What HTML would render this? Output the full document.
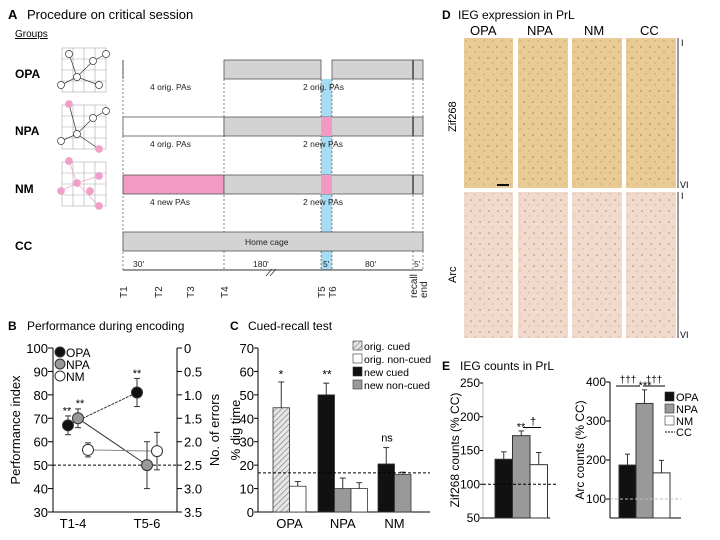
<!DOCTYPE html>
<html><head><meta charset="utf-8">
<style>
body{margin:0;background:#fff}
svg{display:block;font-family:"Liberation Sans",sans-serif}
</style></head><body>
<svg id="fig" width="720" height="540" viewBox="0 0 720 540" xmlns="http://www.w3.org/2000/svg">
<defs>
<pattern id="hatch" width="4" height="4" patternUnits="userSpaceOnUse" patternTransform="rotate(45)"><rect width="4" height="4" fill="#e6e6e6"/><line x1="0" y1="0" x2="0" y2="4" stroke="#777" stroke-width="1.2"/></pattern>
<pattern id="dotsZ" width="9" height="11" patternUnits="userSpaceOnUse"><rect width="9" height="11" fill="#e9cc95"/><circle cx="2" cy="3" r="0.8" fill="#b07a3a"/><circle cx="7" cy="8" r="0.6" fill="#c08a4a"/></pattern>
<pattern id="dotsA" width="9" height="11" patternUnits="userSpaceOnUse"><rect width="9" height="11" fill="#f1d9cc"/><circle cx="3" cy="2" r="0.8" fill="#b8806a"/><circle cx="7" cy="7" r="0.6" fill="#c99a86"/></pattern>
</defs>

<!-- Panel A -->
<g>
<text x="8" y="19" font-size="13" font-weight="bold">A</text>
<text x="27" y="19" font-size="13">Procedure on critical session</text>
<text x="15" y="37" font-size="10" text-decoration="underline">Groups</text>
<g font-size="12" font-weight="bold">
<text x="15" y="78">OPA</text>
<text x="15" y="135">NPA</text>
<text x="15" y="193">NM</text>
<text x="15" y="250">CC</text>
</g>
<g stroke="#aaa" stroke-width="0.6" fill="none">
<rect x="62" y="48" width="44" height="44"/><rect x="62" y="105" width="44" height="44"/><rect x="62" y="162" width="44" height="44"/>
<path d="M73 48v44M84 48v44M95 48v44M62 59h44M62 70h44M62 81h44"/>
<path d="M73 105v44M84 105v44M95 105v44M62 116h44M62 127h44M62 138h44"/>
<path d="M73 162v44M84 162v44M95 162v44M62 173h44M62 184h44M62 195h44"/>
</g>
<g stroke="#333" stroke-width="0.7" fill="#fff">
<path d="M69 54L77 77L93 61L106 54M61 85L77 77L99 85" fill="none"/>
<circle cx="69" cy="54" r="3.5"/><circle cx="93" cy="61" r="3.5"/><circle cx="106" cy="54" r="3.5"/><circle cx="77" cy="77" r="3.5"/><circle cx="61" cy="85" r="3.5"/><circle cx="99" cy="85" r="3.5"/>
<path d="M69 104L77 134L93 118L106 111M61 141L77 134L99 149" fill="none"/>
<circle cx="93" cy="118" r="3.5"/><circle cx="106" cy="111" r="3.5"/><circle cx="77" cy="134" r="3.5"/><circle cx="61" cy="141" r="3.5"/>
<circle cx="69" cy="104" r="3.5" fill="#f0a0c8" stroke="#f0a0c8"/><circle cx="99" cy="149" r="3.5" fill="#f0a0c8" stroke="#f0a0c8"/>
<path d="M69 161L77 183L99 176M61 191L77 183L99 206" fill="none" stroke="#f0a0c8"/>
<g fill="#f0a0c8" stroke="#f0a0c8"><circle cx="69" cy="161" r="3.5"/><circle cx="99" cy="176" r="3.5"/><circle cx="77" cy="183" r="3.5"/><circle cx="61" cy="191" r="3.5"/><circle cx="90" cy="191" r="3.5"/><circle cx="99" cy="206" r="3.5"/></g>
</g>
<rect x="321" y="79" width="11" height="191" fill="#a6dcf4"/>
<g stroke="#333" stroke-width="0.6" stroke-dasharray="2,2">
<line x1="123" y1="60" x2="123" y2="270"/><line x1="224" y1="79" x2="224" y2="270"/><line x1="321" y1="79" x2="321" y2="270"/><line x1="332" y1="79" x2="332" y2="270"/><line x1="413" y1="79" x2="413" y2="270"/><line x1="423" y1="79" x2="423" y2="270"/>
</g>
<line x1="123" y1="60" x2="123" y2="79" stroke="#333" stroke-width="0.8"/>
<g stroke="#555" stroke-width="0.8">
<rect x="224" y="60" width="97" height="19" fill="#d3d3d3"/>
<rect x="332" y="60" width="91" height="19" fill="#d3d3d3"/>
<rect x="123" y="117" width="101" height="19" fill="#fff"/>
<rect x="224" y="117" width="199" height="19" fill="#d3d3d3"/>
<rect x="321" y="117" width="11" height="19" fill="#f29ac2" stroke="none"/>
<rect x="123" y="175" width="101" height="19" fill="#f29ac2"/>
<rect x="224" y="175" width="199" height="19" fill="#d3d3d3"/>
<rect x="321" y="175" width="11" height="19" fill="#f29ac2" stroke="none"/>
<rect x="123" y="232" width="300" height="19" fill="#d3d3d3"/>
</g>
<g stroke="#444" stroke-width="1.5"><line x1="413" y1="60" x2="413" y2="79"/><line x1="413" y1="117" x2="413" y2="136"/><line x1="413" y1="175" x2="413" y2="194"/></g>
<g font-size="8.5" fill="#222">
<text x="150" y="90">4 orig. PAs</text><text x="303" y="90">2 orig. PAs</text>
<text x="150" y="147">4 orig. PAs</text><text x="303" y="147">2 new PAs</text>
<text x="150" y="205">4 new PAs</text><text x="303" y="205">2 new PAs</text>
<text x="245" y="245">Home cage</text>
<text x="133" y="267">30'</text><text x="253" y="267">180'</text><text x="323" y="267">5'</text><text x="365" y="267">80'</text><text x="414" y="267">5'</text>
</g>
<line x1="123" y1="270" x2="423" y2="270" stroke="#333"/>
<path d="M266 276l6-7M270 276l6-7" stroke="#333" stroke-width="0.8"/>
<g font-size="10" fill="#222">
<text transform="translate(127,298) rotate(-90)">T1</text><text transform="translate(162,298) rotate(-90)">T2</text><text transform="translate(194,298) rotate(-90)">T3</text><text transform="translate(228,298) rotate(-90)">T4</text><text transform="translate(325,298) rotate(-90)">T5</text><text transform="translate(336,298) rotate(-90)">T6</text><text transform="translate(417,298) rotate(-90)">recall</text><text transform="translate(427,298) rotate(-90)">end</text>
</g>
</g>

<!-- Panel D -->
<g>
<text x="442" y="19" font-size="12" font-weight="bold">D</text>
<text x="458" y="19" font-size="12">IEG expression in PrL</text>
<g font-size="13"><text x="470" y="35">OPA</text><text x="527" y="35">NPA</text><text x="584" y="35">NM</text><text x="640" y="35">CC</text></g>
<g>
<rect x="464" y="38" width="49" height="150" fill="url(#dotsZ)"/><rect x="518" y="38" width="50" height="150" fill="url(#dotsZ)"/><rect x="572" y="38" width="50" height="150" fill="url(#dotsZ)"/><rect x="626" y="38" width="50" height="150" fill="url(#dotsZ)"/>
</g>
<g>
<rect x="464" y="192" width="49" height="146" fill="url(#dotsA)"/><rect x="518" y="192" width="50" height="146" fill="url(#dotsA)"/><rect x="572" y="192" width="50" height="146" fill="url(#dotsA)"/><rect x="626" y="192" width="50" height="146" fill="url(#dotsA)"/>
</g>
<rect x="497" y="184" width="12" height="2" fill="#111"/>
<line x1="678" y1="38" x2="678" y2="188" stroke="#333"/><line x1="678" y1="192" x2="678" y2="338" stroke="#333"/>
<g font-size="9"><text x="681" y="46">I</text><text x="680" y="188">VI</text><text x="681" y="199">I</text><text x="680" y="338">VI</text></g>
<text transform="translate(456,132) rotate(-90)" font-size="11">Zif268</text>
<text transform="translate(456,283) rotate(-90)" font-size="11">Arc</text>
</g>

<!-- Panel B -->
<g id="panelB">
<text x="8" y="330" font-size="12" font-weight="bold">B</text>
<text x="27" y="330" font-size="12">Performance during encoding</text>
<text transform="translate(20,430) rotate(-90)" font-size="13" text-anchor="middle">Performance index</text>
<text transform="translate(219,430) rotate(-90)" font-size="13" text-anchor="middle">No. of errors</text>
</g>

<!-- Panel C -->
<g id="panelC">
<text x="230" y="330" font-size="12" font-weight="bold">C</text>
<text x="248" y="330" font-size="12">Cued-recall test</text>
<text transform="translate(240,430) rotate(-90)" font-size="13" text-anchor="middle">% dig time</text>
</g>

<!-- Panel E -->
<g id="panelE">
<text x="442" y="370" font-size="12" font-weight="bold">E</text>
<text x="460" y="370" font-size="12">IEG counts in PrL</text>
<text transform="translate(459,450) rotate(-90)" font-size="12" text-anchor="middle">Zif268 counts (% CC)</text>
<text transform="translate(584,450) rotate(-90)" font-size="12" text-anchor="middle">Arc counts (% CC)</text>
</g>
</svg>
<script>
// ---- Panel B data ----
const bGroups = ['OPA','NPA','NM'];
const bPhases = ['T1-4','T5-6'];
const bOPA = [67, 81];
const bNPA = [70, 50];
const bNM = [56.5, 56];
const bErrOPA = [4, 6];
const bErrNPA = [4, 10];
const bErrNM = [3, 8];
const bTicks = [30,40,50,60,70,80,90,100];
const bRightTicks = ['3.5','3.0','2.5','2.0','1.5','1.0','0.5','0'];
// ---- Panel C data ----
const cGroups = ['OPA','NPA','NM'];
const cSeries = ['orig. cued','orig. non-cued','new cued','new non-cued'];
const cOPA = [44.5, 11];
const cOPAErr = [11, 2];
const cNPA = [50, 10, 10];
const cNPAErr = [5, 4.5, 2.5];
const cNM = [20.5, 16];
const cNMErr = [7, 1];
const cTicks = [0,10,20,30,40,50,60,70];
// ---- Panel E data ----
const eGroups = ['OPA','NPA','NM'];
const zifVals = [137, 172, 129];
const zifErr = [11, 7, 18];
const zifTicks = [50,100,150,200,250];
const arcVals = [187, 345, 167];
const arcErr = [28, 35, 32];
const arcTicks = [100,200,300,400];

const NS='http://www.w3.org/2000/svg';
function mk(parent, tag, attrs, text){const e=document.createElementNS(NS,tag);for(const k in attrs)e.setAttribute(k,attrs[k]);if(text!==undefined)e.textContent=text;parent.appendChild(e);return e;}

// Panel B
(function(){
const g=document.getElementById('panelB');
const y=v=>512-(v-30)*(164/70);
mk(g,'line',{x1:53,y1:348,x2:53,y2:512,stroke:'#000'});
mk(g,'line',{x1:177,y1:348,x2:177,y2:512,stroke:'#000'});
mk(g,'line',{x1:53,y1:512,x2:177,y2:512,stroke:'#000'});
bTicks.forEach((t,i)=>{
 const tk=mk(g,'text',{x:48,y:y(t)+5,'font-size':13,'text-anchor':'end'},String(t));
 
 
 mk(g,'line',{x1:48,y1:y(t),x2:53,y2:y(t),stroke:'#000'});
 mk(g,'line',{x1:177,y1:y(t),x2:182,y2:y(t),stroke:'#000'});
 const rt=mk(g,'text',{x:184,y:y(t)+5,'font-size':13},bRightTicks[i]);
 
 
});
const px=[73,147];
bPhases.forEach((p,i)=>{const t=mk(g,'text',{x:px[i],y:528,'font-size':13,'text-anchor':'middle'},p);
 
 });
mk(g,'line',{x1:53,y1:y(50),x2:177,y2:y(50),stroke:'#000','stroke-dasharray':'3,2'});
const series=[[bOPA,bErrOPA,'#111',-10],[bNPA,bErrNPA,'#999',0],[bNM,bErrNM,'#fff',10]];
const xsOf=off=>[78+off,147+off];
series.forEach(([v,e,c,off],si)=>{
 const xs=xsOf(off);
 mk(g,'line',{x1:xs[0],y1:y(v[0]),x2:xs[1],y2:y(v[1]),stroke:si==2?'#888':'#333','stroke-dasharray':si==0?'3,1':'none'});
});
series.forEach(([v,e,c,off],si)=>{
 const xs=xsOf(off);
 v.forEach((val,i)=>{
  mk(g,'line',{x1:xs[i],y1:y(val-e[i]),x2:xs[i],y2:y(val+e[i]),stroke:'#333'});
  mk(g,'line',{x1:xs[i]-3,y1:y(val+e[i]),x2:xs[i]+3,y2:y(val+e[i]),stroke:'#333'});
  mk(g,'line',{x1:xs[i]-3,y1:y(val-e[i]),x2:xs[i]+3,y2:y(val-e[i]),stroke:'#333'});
  const pt=mk(g,'circle',{cx:xs[i],cy:y(val),r:5.5,fill:c,stroke:'#333'});
  
  
 });
});
mk(g,'text',{x:67,y:y(73)+3,'font-size':11,'text-anchor':'middle'},'**');
mk(g,'text',{x:80,y:y(76)+3,'font-size':11,'text-anchor':'middle'},'**');
mk(g,'text',{x:137,y:y(89)+3,'font-size':11,'text-anchor':'middle'},'**');
const lc=['#111','#999','#fff'];
bGroups.forEach((n,i)=>{
 const ly=352+i*12;
 const lg=mk(g,'circle',{cx:60,cy:ly,r:5,fill:lc[i],stroke:'#333'});
 
 
 mk(g,'text',{x:66,y:ly+5,'font-size':12},n);
});
})();

// Panel C
(function(){
const g=document.getElementById('panelC');
const y=v=>512-v*(164/70);
mk(g,'line',{x1:258,y1:348,x2:258,y2:512,stroke:'#000'});
mk(g,'line',{x1:258,y1:512,x2:430,y2:512,stroke:'#000'});
cTicks.forEach(t=>{
 const tk=mk(g,'text',{x:254,y:y(t)+5,'font-size':13,'text-anchor':'end'},String(t));
 
 
 mk(g,'line',{x1:254,y1:y(t),x2:258,y2:y(t),stroke:'#000'});
});
const fills=['url(#hatch)','#fff','#111','#999'];
const groupsData=[[cOPA,cOPAErr,[0,1],273],[cNPA,cNPAErr,[2,3,1],318],[cNM,cNMErr,[2,3],378]];
const bw=16.5;
groupsData.forEach(([v,e,types,x0],gi)=>{
 v.forEach((val,i)=>{
  const x=x0+i*bw;
  mk(g,'line',{x1:x+bw/2,y1:y(val),x2:x+bw/2,y2:y(val+e[i]),stroke:'#333'});
  mk(g,'line',{x1:x+bw/2-3,y1:y(val+e[i]),x2:x+bw/2+3,y2:y(val+e[i]),stroke:'#333'});
  const b=mk(g,'rect',{x:x,y:y(val),width:bw,height:512-y(val),fill:fills[types[i]],stroke:'#333','stroke-width':0.8});
  
  
 });
 const lab=mk(g,'text',{x:x0+v.length*bw/2,y:528,'font-size':13,'text-anchor':'middle'},cGroups[gi]);
 
 
});
mk(g,'line',{x1:258,y1:y(16.7),x2:430,y2:y(16.7),stroke:'#000','stroke-dasharray':'3,2'});
mk(g,'text',{x:281,y:y(57),'font-size':12,'text-anchor':'middle'},'*');
mk(g,'text',{x:327,y:y(57),'font-size':12,'text-anchor':'middle'},'**');
mk(g,'text',{x:387,y:y(30),'font-size':11,'text-anchor':'middle'},'ns');
cSeries.forEach((s,i)=>{
 const ly=341+i*13;
 const lr=mk(g,'rect',{x:353,y:ly,width:9,height:9,fill:fills[i],stroke:'#333','stroke-width':0.6});
 
 
 mk(g,'text',{x:364,y:ly+9,'font-size':10.5},s);
});
})();

// Panel E
(function(){
const g=document.getElementById('panelE');
const fills=['#111','#999','#fff'];
// Zif268
const yz=v=>518-(v-50)*(135/200);
mk(g,'line',{x1:483,y1:383,x2:483,y2:518,stroke:'#bbb'});
mk(g,'line',{x1:483,y1:518,x2:550,y2:518,stroke:'#000'});
zifTicks.forEach(t=>{
 const tk=mk(g,'text',{x:480,y:yz(t)+4,'font-size':12,'text-anchor':'end'},String(t));
 
 
 mk(g,'line',{x1:480,y1:yz(t),x2:483,y2:yz(t),stroke:'#000'});
});
zifVals.forEach((v,i)=>{
 const x=495+i*17.5;
 mk(g,'line',{x1:x+8.75,y1:yz(v),x2:x+8.75,y2:yz(v+zifErr[i]),stroke:'#333'});
 mk(g,'line',{x1:x+6,y1:yz(v+zifErr[i]),x2:x+11.5,y2:yz(v+zifErr[i]),stroke:'#333'});
 const b=mk(g,'rect',{x:x,y:yz(v),width:17.5,height:518-yz(v),fill:fills[i],stroke:'#333'});
 
 
});
mk(g,'line',{x1:483,y1:yz(100),x2:557,y2:yz(100),stroke:'#000','stroke-dasharray':'3,2'});
mk(g,'text',{x:521,y:yz(180),'font-size':11,'text-anchor':'middle'},'**');
mk(g,'line',{x1:523,y1:yz(184),x2:541,y2:yz(184),stroke:'#000'});
mk(g,'text',{x:533,y:yz(188),'font-size':11,'text-anchor':'middle'},'†');
// Arc
const ya=v=>499-(v-100)*(117/300);
mk(g,'line',{x1:610,y1:382,x2:610,y2:518,stroke:'#000'});
mk(g,'line',{x1:610,y1:518,x2:681,y2:518,stroke:'#000'});
arcTicks.forEach(t=>{
 const tk=mk(g,'text',{x:606,y:ya(t)+4,'font-size':12,'text-anchor':'end'},String(t));
 
 
 mk(g,'line',{x1:606,y1:ya(t),x2:610,y2:ya(t),stroke:'#000'});
});
arcVals.forEach((v,i)=>{
 const x=619+i*17;
 mk(g,'line',{x1:x+8.5,y1:ya(v),x2:x+8.5,y2:ya(v+arcErr[i]),stroke:'#333'});
 mk(g,'line',{x1:x+6,y1:ya(v+arcErr[i]),x2:x+11,y2:ya(v+arcErr[i]),stroke:'#333'});
 const b=mk(g,'rect',{x:x,y:ya(v),width:17,height:518-ya(v),fill:fills[i],stroke:'#333'});
 
 
});
mk(g,'line',{x1:610,y1:ya(100),x2:681,y2:ya(100),stroke:'#bbb','stroke-dasharray':'3,2'});
mk(g,'text',{x:645,y:ya(392)+4,'font-size':11,'text-anchor':'middle'},'***');
mk(g,'text',{x:628,y:383,'font-size':10,'text-anchor':'middle'},'†††');
mk(g,'text',{x:654,y:383,'font-size':10,'text-anchor':'middle'},'†††');
mk(g,'line',{x1:616,y1:386,x2:640,y2:386,stroke:'#000'});
mk(g,'line',{x1:643,y1:386,x2:665,y2:386,stroke:'#000'});
eGroups.forEach((n,i)=>{
 const ly=392+i*12;
 const lr=mk(g,'rect',{x:665,y:ly,width:9,height:9,fill:fills[i],stroke:'#333','stroke-width':0.6});
 
 
 mk(g,'text',{x:676,y:ly+9,'font-size':11},n);
});
mk(g,'line',{x1:665,y1:432,x2:675,y2:432,stroke:'#000','stroke-dasharray':'2,1'});
mk(g,'text',{x:676,y:436,'font-size':11},'CC');
})();
</script>
</body></html>
